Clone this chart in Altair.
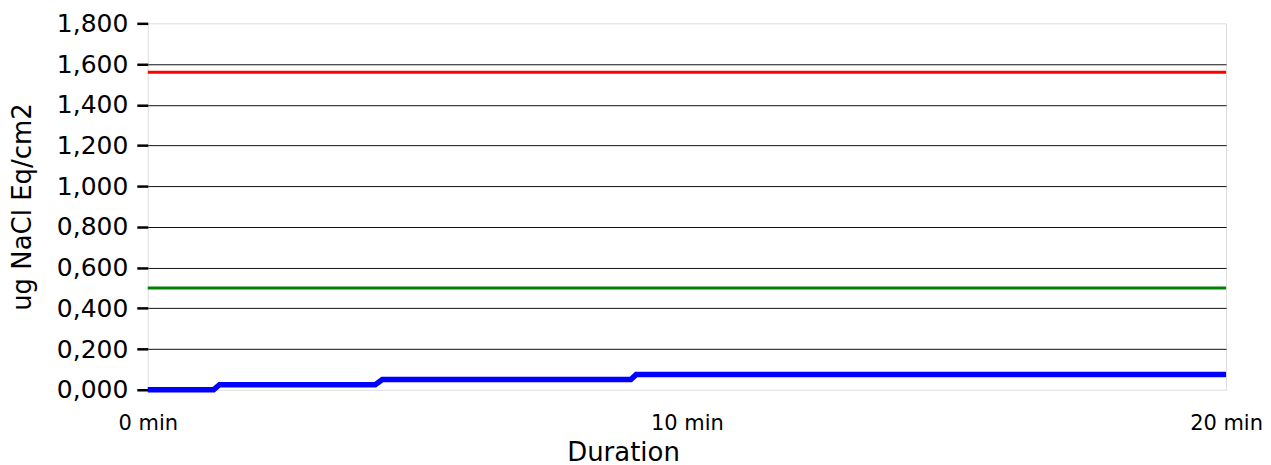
import altair as alt
import pandas as pd

# Measured series (Duration in minutes, value in ug NaCl Eq/cm2)
blue_t = [0.0, 1.22, 1.33, 4.22, 4.35, 8.96, 9.06, 20.0]
blue_v = [0.0, 0.0, 0.025, 0.025, 0.05, 0.05, 0.075, 0.075]
red_t = [0.0, 20.0]
red_v = [1.56, 1.56]
green_t = [0.0, 20.0]
green_v = [0.5, 0.5]

y_ticks = [0, 0.2, 0.4, 0.6, 0.8, 1.0, 1.2, 1.4, 1.6, 1.8]
x_ticks = [0, 10, 20]

rows = []
for t, v in zip(blue_t, blue_v):
    rows.append({"t": t, "v": v, "series": "Measured"})
for t, v in zip(red_t, red_v):
    rows.append({"t": t, "v": v, "series": "Upper"})
for t, v in zip(green_t, green_v):
    rows.append({"t": t, "v": v, "series": "Lower"})
df = pd.DataFrame(rows)

FONT = "DejaVu Sans"

x_enc = alt.X(
    "t:Q",
    title="Duration",
    scale=alt.Scale(domain=[0, 20], nice=False),
    axis=alt.Axis(
        values=x_ticks,
        labelExpr="datum.value + ' min'",
        ticks=False,
        tickSize=0,
        domain=False,
        grid=False,
        labelFontSize=21,
        labelFont=FONT,
        labelColor="#000",
        labelPadding=23,
        titleFontSize=26,
        titleFont=FONT,
        titleFontWeight="normal",
        titleColor="#000",
        titlePadding=6,
        titleX=476,
        labelFlush=False,
    ),
)

y_enc = alt.Y(
    "v:Q",
    title="ug NaCl Eq/cm2",
    scale=alt.Scale(domain=[0, 1.8], nice=False),
    axis=alt.Axis(
        values=y_ticks,
        labelExpr="replace(format(datum.value, '.3f'), '.', ',')",
        domain=False,
        ticks=True,
        tickSize=11,
        tickWidth=2.5,
        tickColor="#000",
        grid=True,
        gridColor={"condition": {"test": "datum.value <= 0 || datum.value >= 1.8", "value": "transparent"}, "value": "#111"},
        gridWidth=1,
        labelFontSize=25,
        labelFont=FONT,
        labelColor="#000",
        labelPadding=9,
        titleFontSize=26,
        titleFont=FONT,
        titleFontWeight="normal",
        titleColor="#000",
        titlePadding=21,
        labelFlush=False,
    ),
)

color_scale = alt.Scale(domain=["Upper", "Lower", "Measured"], range=["#ff0000", "#008000", "#0000ff"])

base = alt.Chart(df)

thin = base.transform_filter("datum.series != 'Measured'").mark_line(strokeWidth=3).encode(
    x=x_enc,
    y=y_enc,
    detail="series:N",
    color=alt.Color("series:N", scale=color_scale, legend=None),
)

thick = base.transform_filter("datum.series == 'Measured'").mark_line(strokeWidth=5.5).encode(
    x=x_enc,
    y=y_enc,
    color=alt.Color("series:N", scale=color_scale, legend=None),
)

chart = (
    alt.layer(thin, thick)
    .properties(width=1080, height=367, padding={"left": 1, "top": 3, "right": 0, "bottom": 0})
    .configure_view(stroke="#e6f1fc", strokeWidth=2)
    .configure(background="white")
)

chart.save("out.html", embed_options={"renderer": "svg", "actions": False})
